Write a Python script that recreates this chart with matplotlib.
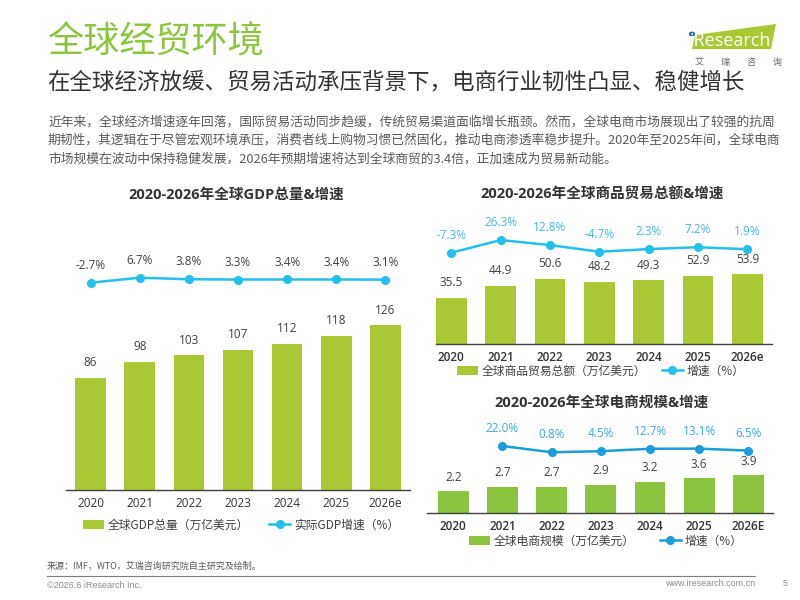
import matplotlib
matplotlib.use('Agg')
import matplotlib.pyplot as plt
from matplotlib.patches import Polygon, Circle

plt.rcParams['font.family'] = ['Noto Sans CJK SC', 'DejaVu Sans']

# ---- data ----
gdp_years = ['2020', '2021', '2022', '2023', '2024', '2025', '2026e']
gdp_total = [86, 98, 103, 107, 112, 118, 126]
gdp_growth = [-2.7, 6.7, 3.8, 3.3, 3.4, 3.4, 3.1]

trade_years = ['2020', '2021', '2022', '2023', '2024', '2025', '2026e']
trade_total = [35.5, 44.9, 50.6, 48.2, 49.3, 52.9, 53.9]
trade_growth = [-7.3, 26.3, 12.8, -4.7, 2.3, 7.2, 1.9]

ec_years = ['2020', '2021', '2022', '2023', '2024', '2025', '2026E']
ec_total = [2.2, 2.7, 2.7, 2.9, 3.2, 3.6, 3.9]
ec_growth_years = ['2021', '2022', '2023', '2024', '2025', '2026E']
ec_growth = [22.0, 0.8, 4.5, 12.7, 13.1, 6.5]

NUM_FONT = ['Open Sans', 'Noto Sans CJK SC']
GREEN = '#a9c833'
GREEN2 = '#8dc43f'
CYAN = '#22c0ea'
BLUE = '#1a9dd9'

W, H = 800, 600
fig = plt.figure(figsize=(8, 6), dpi=100)


def fx(x):
    return x / W


def fy(y):
    return 1 - y / H


def add_chart(box, xlim, bar_ylim, line_ylim, years, totals, growth_x, growth,
              bar_color, line_color, pct_color, fmt, tick_bold, bar_label_off):
    """box = (left, top, right, bottom) in pixels"""
    left, top, right, bottom = box
    ax = fig.add_axes([fx(left), fy(bottom), fx(right - left), (bottom - top) / H])
    xs = list(range(len(years)))
    bars = ax.bar(xs, totals, width=0.625, color=bar_color, zorder=2)
    ax.set_xlim(*xlim)
    ax.set_ylim(*bar_ylim)
    for x, v in zip(xs, totals):
        ax.annotate(fmt.format(v), (x, v), xytext=(0, bar_label_off), textcoords='offset points',
                    ha='center', va='center', fontsize=8.5, color='#404040', family=NUM_FONT)
    ax.set_xticks(xs)
    ax.set_xticklabels(years, family=NUM_FONT, fontsize=8.5, color='#333333',
                       fontweight='semibold' if tick_bold else 'normal')
    ax.tick_params(axis='x', length=0, pad=5)
    ax.set_yticks([])
    for s in ['top', 'right', 'left']:
        ax.spines[s].set_visible(False)
    ax.spines['bottom'].set_color('#404040')
    ax.spines['bottom'].set_linewidth(1.0)
    ax.patch.set_alpha(0)

    ax2 = ax.twinx()
    gx = [years.index(y) for y in growth_x]
    line, = ax2.plot(gx, growth, color=line_color, lw=1.8, marker='o', markersize=5.5, zorder=3)
    ax2.set_ylim(*line_ylim)
    ax2.set_yticks([])
    for s in ['top', 'right', 'left', 'bottom']:
        ax2.spines[s].set_visible(False)
    for x, v in zip(gx, growth):
        ax2.annotate('{:.1f}%'.format(v), (x, v), xytext=(0, 12.5), textcoords='offset points',
                     ha='center', va='center', fontsize=8.5, color=pct_color, family=NUM_FONT)
    return ax, bars, line


def add_legend(ax, handles, labels, x, y, spacing):
    ax.legend(handles, labels, loc='center left', bbox_to_anchor=(fx(x), fy(y)),
              bbox_transform=fig.transFigure, ncol=2, frameon=False, borderpad=0,
              borderaxespad=0, handlelength=1.8, handletextpad=0.3,
              columnspacing=spacing, prop={'family': 'Noto Sans CJK SC', 'size': 8.5},
              labelcolor='#404040')


# ---- chart 1: GDP ----
ax1, b1, l1 = add_chart((66, 250, 410, 490), (-0.5, 6.5), (0, 183.6), (-392.4, 58.8),
                        gdp_years, gdp_total, gdp_years, gdp_growth,
                        GREEN, CYAN, '#404040', '{:d}', False, 11)
add_legend(ax1, [b1, l1], ['全球GDP总量（万亿美元）', '实际GDP增速（%）'], 83, 525, 1.7)
fig.text(fx(236), fy(195), '2020-2026年全球GDP总量&增速', ha='center', va='center',
         fontsize=10.5, fontweight='bold', color='#333333', family=NUM_FONT)

# ---- chart 2: trade ----
ax2, b2, l2 = add_chart((436, 225, 772, 344), (-0.31, 6.5), (0, 92.2), (-248.8, 66.0),
                        trade_years, trade_total, trade_years, trade_growth,
                        GREEN, CYAN, '#45b8e6', '{:.1f}', True, 11)
add_legend(ax2, [b2, l2], ['全球商品贸易总额（万亿美元）', '增速（%）'], 457, 371, 1.3)
fig.text(fx(602), fy(195), '2020-2026年全球商品贸易总额&增速', ha='center', va='center',
         fontsize=10.5, fontweight='bold', color='#333333', family=NUM_FONT)

# ---- chart 3: e-commerce ----
ax3, b3, l3 = add_chart((427, 425, 773, 512.7), (-0.535, 6.5), (0, 9.09), (-202.6, 92.7),
                        ec_years, ec_total, ec_growth_years, ec_growth,
                        GREEN2, BLUE, '#3aa9df', '{:.1f}', True, 10)
add_legend(ax3, [b3, l3], ['全球电商规模（万亿美元）', '增速（%）'], 469, 541, 2.1)
fig.text(fx(602), fy(403), '2020-2026年全球电商规模&增速', ha='center', va='center',
         fontsize=10.5, fontweight='bold', color='#333333', family=NUM_FONT)

# ---- header ----
fig.text(fx(47), fy(42), '全球经贸环境', ha='left', va='center', fontsize=26, color='#8cc63f')
fig.text(fx(47), fy(82), '在全球经济放缓、贸易活动承压背景下，电商行业韧性凸显、稳健增长',
         ha='left', va='center', fontsize=16.2, color='#333333')
body = ['近年来，全球经济增速逐年回落，国际贸易活动同步趋缓，传统贸易渠道面临增长瓶颈。然而，全球电商市场展现出了较强的抗周',
        '期韧性，其逻辑在于尽管宏观环境承压，消费者线上购物习惯已然固化，推动电商渗透率稳步提升。2020年至2025年间，全球电商',
        '市场规模在波动中保持稳健发展，2026年预期增速将达到全球商贸的3.4倍，正加速成为贸易新动能。']
for i, line in enumerate(body):
    fig.text(fx(48), fy(122 + i * 18.5), line, ha='left', va='center', fontsize=9.2, color='#595959')

# ---- logo ----
fig.patches.append(Polygon([(fx(692), fy(49)), (fx(695), fy(35)), (fx(776), fy(24)), (fx(771), fy(49))],
                           closed=True, transform=fig.transFigure, facecolor='#a9c833', edgecolor='none'))
fig.patches.append(Circle((fx(692), fy(34)), 0.004, transform=fig.transFigure, facecolor='#2b6cb0',
                          edgecolor='none'))
fig.text(fx(690), fy(41), 'iResearch', ha='left', va='center', fontsize=13, color='white',
         family=['Open Sans', 'DejaVu Sans'])
for i, ch in enumerate('艾瑞咨询'):
    fig.text(fx(699 + i * 26), fy(62), ch, ha='center', va='center', fontsize=6.5, color='#666666')

# ---- footer ----
fig.text(fx(47), fy(566), '来源：IMF，WTO，艾瑞咨询研究院自主研究及绘制。', ha='left', va='center',
         fontsize=6.5, color='#595959')
fig.add_artist(plt.Line2D([fx(47), fx(755)], [fy(576), fy(576)], color='#7f7f7f', lw=0.8,
                          transform=fig.transFigure))
fig.text(fx(47), fy(585), '©2026.6 iResearch Inc.', ha='left', va='center', fontsize=6.5,
         color='#8c8c8c', family=['Liberation Sans', 'DejaVu Sans'])
fig.text(fx(755), fy(584), 'www.iresearch.com.cn', ha='right', va='center', fontsize=6.5,
         color='#8c8c8c', family=['Liberation Sans', 'DejaVu Sans'])
fig.text(fx(785), fy(584), '5', ha='center', va='center', fontsize=6.5, color='#8c8c8c',
         family=['Liberation Sans', 'DejaVu Sans'])

fig.savefig('out.png', dpi=100)
